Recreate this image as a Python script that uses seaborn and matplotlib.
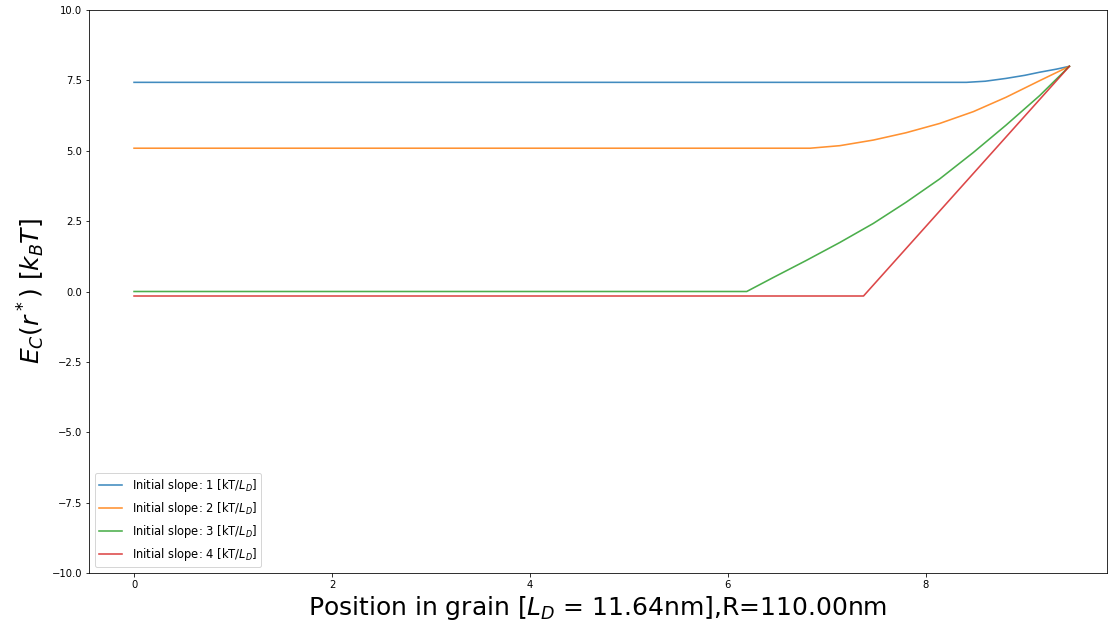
import matplotlib
matplotlib.use("Agg")
import matplotlib.pyplot as plt
import seaborn as sns
import pandas as pd

labels = [r"Initial slope: 1 [kT/$L_D$]", r"Initial slope: 2 [kT/$L_D$]",
          r"Initial slope: 3 [kT/$L_D$]", r"Initial slope: 4 [kT/$L_D$]"]

x1 = [0.0, 8.41, 8.6, 8.81, 9.0, 9.15, 9.32, 9.45]
y1 = [7.43, 7.43, 7.47, 7.57, 7.68, 7.79, 7.90, 8.0]

x2 = [0.0, 6.83, 7.13, 7.47, 7.80, 8.14, 8.48, 8.81, 9.15, 9.45]
y2 = [5.09, 5.09, 5.18, 5.38, 5.64, 5.97, 6.39, 6.90, 7.49, 8.0]

x3 = [0.0, 6.19, 6.46, 6.79, 7.13, 7.47, 7.80, 8.14, 8.48, 8.81, 9.15, 9.45]
y3 = [0.0, 0.0, 0.50, 1.10, 1.74, 2.42, 3.17, 4.00, 4.94, 5.91, 6.96, 8.0]

x4 = [0.0, 7.37, 9.45]
y4 = [-0.16, -0.16, 8.0]

xs = [x1, x2, x3, x4]
ys = [y1, y2, y3, y4]

rows = []
for lab, xv, yv in zip(labels, xs, ys):
    for a, b in zip(xv, yv):
        rows.append({"x": a, "y": b, "series": lab})
df = pd.DataFrame(rows)

fig = plt.figure(figsize=(1108 / 72, 626 / 72), dpi=72)
ax = fig.add_axes([89 / 1108, 53 / 626, 1018 / 1108, 563 / 626])

palette = ["#1f77b4", "#ff7f0e", "#2ca02c", "#d62728"]
sns.lineplot(data=df, x="x", y="y", hue="series", hue_order=labels,
             palette=palette, estimator=None, sort=False, ax=ax,
             linewidth=1.6, alpha=0.85)

ax.set_xlim(-0.455, 9.83)
ax.set_ylim(-10, 10)
ax.set_yticks([-10, -7.5, -5, -2.5, 0, 2.5, 5, 7.5, 10])
ax.set_xticks([0, 2, 4, 6, 8])
ax.tick_params(labelsize=10)
ax.set_xlabel(r"Position in grain [$L_D$ = 11.64nm],R=110.00nm", fontsize=25)
ax.set_ylabel(r"$E_C(r^*)\ [k_BT]$", fontsize=25)

handles, labs = ax.get_legend_handles_labels()
ax.legend(handles, labs, loc="lower left", fontsize=11.5)

fig.savefig("out.png", dpi=72)
